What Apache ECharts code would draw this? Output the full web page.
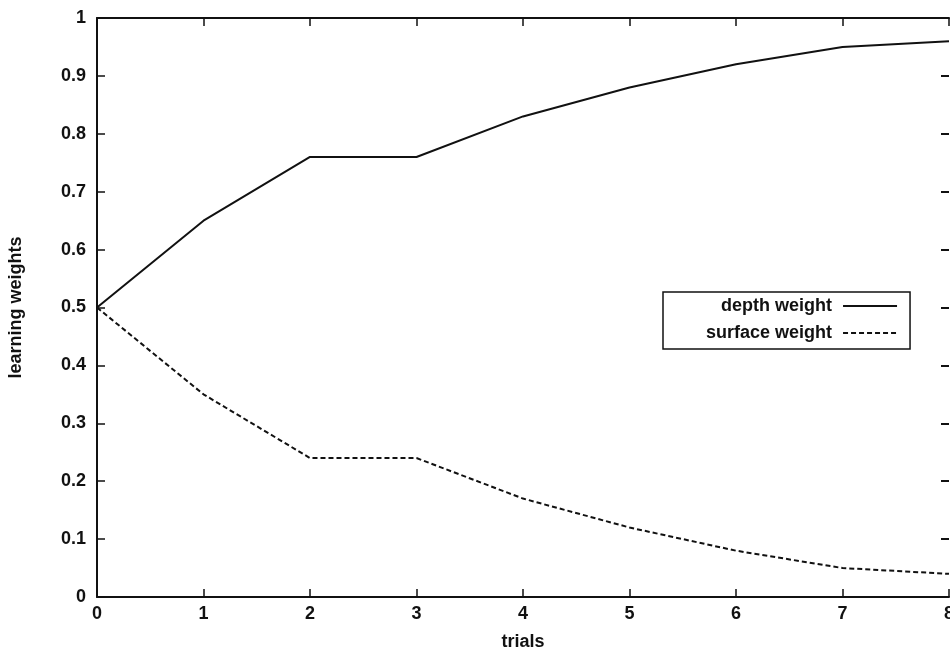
<!DOCTYPE html>
<html><head><meta charset="utf-8">
<script src="https://cdn.jsdelivr.net/npm/echarts@6/dist/echarts.min.js"></script>
<style>html,body{margin:0;padding:0;background:#fff}#c{width:950px;height:653px}</style>
</head><body><div id="c"></div>
<script>
const trials = [0, 1, 2, 3, 4, 5, 6, 7, 8];
const depthWeight = [0.5, 0.65, 0.76, 0.76, 0.83, 0.88, 0.92, 0.95, 0.96];
const surfaceWeight = [0.5, 0.35, 0.24, 0.24, 0.17, 0.12, 0.08, 0.05, 0.04];
const seriesNames = ['depth weight', 'surface weight'];
const xName = 'trials';
const yName = 'learning weights';

const font = 'Liberation Sans, Arial, Helvetica, sans-serif';
const black = '#111';
const axisLine = {show: true, onZero: false, lineStyle: {color: black, width: 2}};
const tick = {show: true, inside: true, length: 8, lineStyle: {color: black, width: 1.5}};
const txt = {fontFamily: font, fontSize: 18, color: black, fontWeight: 'bold'};

const chart = echarts.init(document.getElementById('c'));
chart.setOption({
  animation: false,
  backgroundColor: '#fff',
  grid: {left: 97, right: 1, top: 18, bottom: 56, containLabel: false, outerBoundsMode: 'none'},
  legend: {
    data: seriesNames,
    orient: 'vertical',
    align: 'right',
    left: 663, top: 292,
    itemWidth: 54, itemHeight: 14, itemGap: 9,
    padding: [5, 12, 7, 43],
    borderColor: black, borderWidth: 1.5,
    itemStyle: {color: 'rgba(0,0,0,0)', borderWidth: 0},
    textStyle: Object.assign({}, txt, {padding: [0, 6, 0, 0]})
  },
  xAxis: [
    {type: 'value', min: 0, max: 8, interval: 1, position: 'bottom',
     name: xName, nameLocation: 'middle', nameGap: 36,
     nameTextStyle: txt,
     axisLine: axisLine, axisTick: tick, splitLine: {show: false},
     axisLabel: Object.assign({}, txt, {margin: 8})},
    {type: 'value', min: 0, max: 8, interval: 1, position: 'top',
     axisLine: axisLine, axisTick: tick, splitLine: {show: false}, axisLabel: {show: false}}
  ],
  yAxis: [
    {type: 'value', min: 0, max: 1, interval: 0.1, position: 'left',
     name: yName, nameLocation: 'middle', nameGap: 72, nameRotate: 90,
     nameTextStyle: txt,
     axisLine: axisLine, axisTick: tick, splitLine: {show: false},
     axisLabel: Object.assign({}, txt, {margin: 11,
       formatter: v => String(Math.round(v * 10) / 10)})},
    {type: 'value', min: 0, max: 1, interval: 0.1, position: 'right',
     axisLine: {show: true, onZero: false, lineStyle: {color: black, width: 1, opacity: 0}},
     axisTick: {show: true, inside: true, length: 8, lineStyle: {color: black, width: 2}},
     splitLine: {show: false}, axisLabel: {show: false}}
  ],
  series: [
    {name: seriesNames[0], type: 'line', symbol: 'none',
     data: trials.map((t, i) => [t, depthWeight[i]]),
     lineStyle: {color: black, width: 2, type: 'solid'}, itemStyle: {color: black}},
    {name: seriesNames[1], type: 'line', symbol: 'none',
     data: trials.map((t, i) => [t, surfaceWeight[i]]),
     lineStyle: {color: black, width: 2, type: [5, 3]}, itemStyle: {color: black}}
  ]
});
</script></body></html>
